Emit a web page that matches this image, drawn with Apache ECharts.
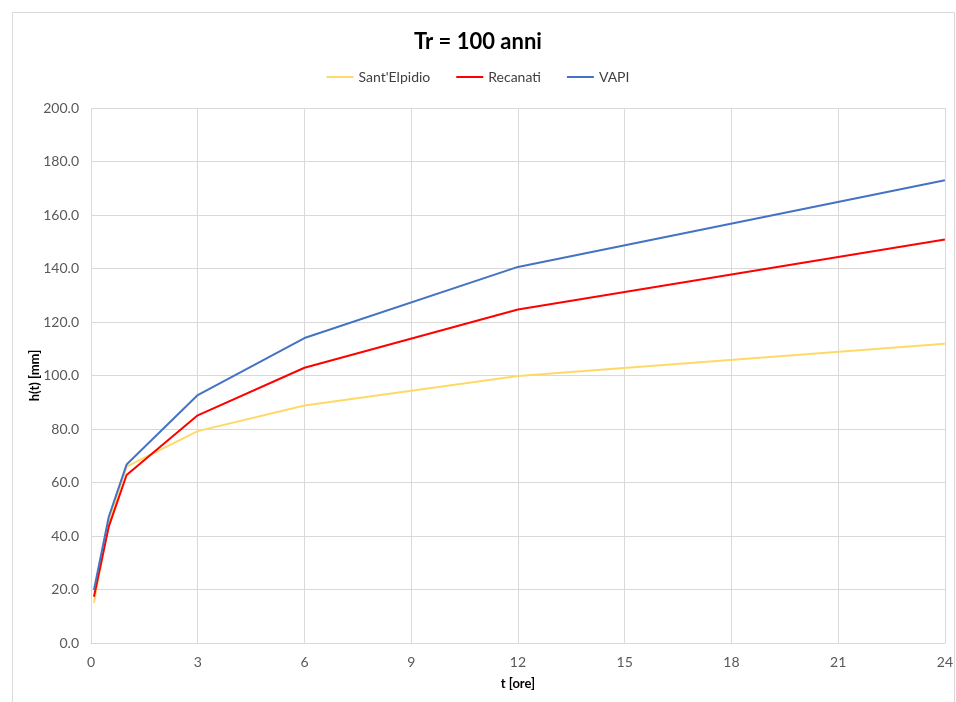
<!DOCTYPE html>
<html>
<head>
<meta charset="utf-8">
<script src="https://cdn.jsdelivr.net/npm/echarts@6/dist/echarts.min.js"></script>
<style>
  html, body { margin: 0; padding: 0; background: #fff; }
  #chart { width: 956px; height: 702px; }
</style>
</head>
<body>
<div id="chart"></div>
<script>
// durate [ore] e altezze di pioggia [mm]
const hours = [0.083, 0.5, 1, 3, 6, 12, 24];
const santElpidio = [15.0, 45.0, 65.9, 79.2, 88.8, 99.8, 111.9];
const recanati = [17.3, 43.5, 62.8, 85.1, 102.9, 124.7, 150.8];
const vapi = [19.8, 47.2, 66.7, 92.7, 114.0, 140.6, 173.0];
const xTicks = [0, 3, 6, 9, 12, 15, 18, 21, 24];

const pair = arr => hours.map((h, i) => [h, arr[i]]);
const font = "Lato, 'Open Sans', sans-serif";

var myChart = echarts.init(document.getElementById("chart"));
var option = {
  animation: false,
  textStyle: { fontFamily: font },
  title: {
    text: "Tr = 100 anni",
    left: "center",
    top: 26,
    textStyle: { fontSize: 22, fontWeight: "bold", color: "#000", fontFamily: font }
  },
  legend: {
    top: 65,
    left: "center",
    itemWidth: 27,
    itemHeight: 2,
    itemGap: 26,
    icon: "rect",
    textStyle: { fontSize: 14, color: "#404040" },
    data: ["Sant'Elpidio", "Recanati", "VAPI"]
  },
  graphic: [
    {
      type: "rect",
      shape: { x: 12.5, y: 12.5, width: 942, height: 700 },
      style: { fill: "none", stroke: "#d9d9d9", lineWidth: 1 },
      silent: true
    }
  ],
  grid: { left: 91, right: 10, top: 108, bottom: 59 },
  xAxis: {
    type: "value",
    min: 0,
    max: 24,
    interval: 3,
    name: "t [ore]",
    nameLocation: "middle",
    nameGap: 34,
    nameTextStyle: { fontSize: 13, fontWeight: "bold", color: "#000" },
    axisLine: { show: true, lineStyle: { color: "#d9d9d9" } },
    axisTick: { show: false },
    axisLabel: {
      color: "#595959",
      fontSize: 14,
      margin: 12,
      formatter: v => (xTicks.indexOf(v) >= 0 ? String(v) : "")
    },
    splitLine: { show: true, lineStyle: { color: "#d9d9d9" } }
  },
  yAxis: {
    type: "value",
    min: 0,
    max: 200,
    interval: 20,
    name: "h(t) [mm]",
    nameLocation: "middle",
    nameGap: 50,
    nameMoveOverlap: false,
    nameTextStyle: { fontSize: 13, fontWeight: "bold", color: "#000" },
    axisLine: { show: false },
    axisTick: { show: false },
    axisLabel: {
      color: "#595959",
      fontSize: 14,
      margin: 12,
      formatter: v => v.toFixed(1)
    },
    splitLine: { show: true, lineStyle: { color: "#d9d9d9" } }
  },
  series: [
    {
      name: "Sant'Elpidio",
      type: "line",
      data: pair(santElpidio),
      symbol: "none",
      lineStyle: { color: "#FFD966", width: 2 },
      itemStyle: { color: "#FFD966" }
    },
    {
      name: "Recanati",
      type: "line",
      data: pair(recanati),
      symbol: "none",
      lineStyle: { color: "#FF0000", width: 2 },
      itemStyle: { color: "#FF0000" }
    },
    {
      name: "VAPI",
      type: "line",
      data: pair(vapi),
      symbol: "none",
      lineStyle: { color: "#4472C4", width: 2 },
      itemStyle: { color: "#4472C4" }
    }
  ]
};
myChart.setOption(option);
</script>
</body>
</html>
